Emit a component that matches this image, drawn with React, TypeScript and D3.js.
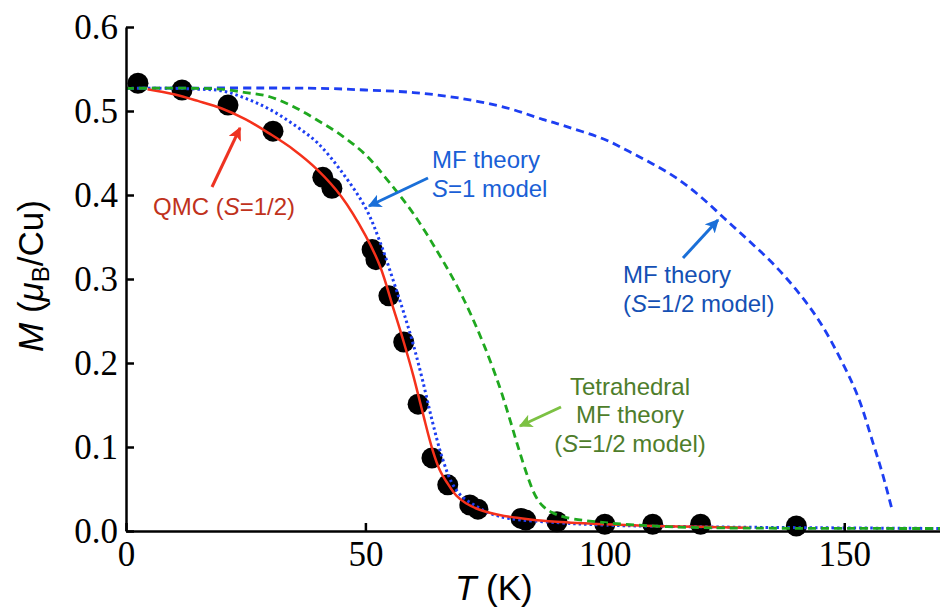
import React, { useRef, useEffect } from "react";
import * as d3 from "d3";

// measured points (black dots)
const dotT = [2.5, 11.7, 21.3, 30.7, 41.1, 43, 51.4, 52.2, 54.9, 58, 61, 63.9, 67.2, 71.8, 73.5, 82.5, 83.5, 90, 100, 110, 120, 140];
const dotM = [0.533, 0.525, 0.507, 0.476, 0.421, 0.408, 0.335, 0.323, 0.28, 0.225, 0.151, 0.087, 0.055, 0.031, 0.026, 0.015, 0.013, 0.011, 0.008, 0.008, 0.008, 0.006];

// QMC (S=1/2), red solid
const qmcT = [4.5, 10, 15, 20, 25, 30, 35, 40, 45, 50, 53, 56, 58, 60, 62, 64, 65.5, 67, 69, 71, 74, 78, 84, 90, 100, 110, 120, 130];
const qmcM = [0.526, 0.52, 0.512, 0.503, 0.49, 0.473, 0.454, 0.43, 0.398, 0.352, 0.316, 0.262, 0.225, 0.185, 0.14, 0.097, 0.073, 0.058, 0.042, 0.033, 0.025, 0.019, 0.014, 0.011, 0.008, 0.006, 0.005, 0.004];

// MF theory S=1 model, blue dotted
const s1T = [0, 10, 15, 20, 25, 30, 35, 40, 45, 50, 53, 56, 58, 60, 62, 64, 66, 68, 70, 73, 76, 80, 90, 100, 120, 140, 170];
const s1M = [0.527, 0.527, 0.526, 0.524, 0.515, 0.502, 0.484, 0.462, 0.428, 0.385, 0.345, 0.295, 0.26, 0.222, 0.178, 0.13, 0.088, 0.058, 0.042, 0.03, 0.021, 0.015, 0.01, 0.007, 0.005, 0.004, 0.003];

// Tetrahedral MF theory, green dashed
const tetT = [0, 15, 20, 25, 30, 35, 40, 45, 50, 55, 60, 65, 69, 72, 75, 78, 80, 82, 84, 85.5, 87, 89, 92, 100, 110, 120, 170];
const tetM = [0.527, 0.527, 0.526, 0.522, 0.517, 0.505, 0.489, 0.471, 0.448, 0.415, 0.378, 0.333, 0.293, 0.258, 0.218, 0.172, 0.136, 0.098, 0.063, 0.042, 0.03, 0.022, 0.016, 0.01, 0.006, 0.004, 0.003];

// MF theory S=1/2 model, blue dashed
const halfT = [0, 40, 50, 60, 70, 80, 87, 90, 100, 105, 110, 115, 120, 125, 130, 135, 140, 145, 150, 153, 156, 158, 160];
const halfM = [0.527, 0.527, 0.525, 0.522, 0.515, 0.503, 0.49, 0.485, 0.466, 0.452, 0.437, 0.42, 0.398, 0.372, 0.346, 0.319, 0.287, 0.248, 0.196, 0.158, 0.105, 0.068, 0.025];

const xMajor = [0, 50, 100, 150];
const yMajor = [0, 0.1, 0.2, 0.3, 0.4, 0.5, 0.6];

const App = () => {
  const svgRef = useRef<SVGSVGElement>(null);

  useEffect(() => {
    const svg = d3.select(svgRef.current);
    svg.selectAll("*").remove();

    const x = d3.scaleLinear().domain([0, 170]).range([126, 940]);
    const y = d3.scaleLinear().domain([0, 0.6]).range([531, 27]);

    // arrow heads
    const defs = svg.append("defs");
    const mk = (id: string, color: string) => {
      defs.append("marker")
        .attr("id", id)
        .attr("viewBox", "0 0 10 10")
        .attr("refX", 9)
        .attr("refY", 5)
        .attr("markerWidth", 4.5)
        .attr("markerHeight", 4.5)
        .attr("orient", "auto")
        .append("path")
        .attr("d", "M0,0 L10,5 L0,10 L2.5,5 Z")
        .attr("fill", color);
    };
    mk("ar-red", "#ee3322");
    mk("ar-blue", "#1a6fd8");
    mk("ar-green", "#7cc143");

    // dots
    svg.append("g")
      .selectAll("circle")
      .data(dotT)
      .join("circle")
      .attr("cx", (d) => x(d))
      .attr("cy", (d, i) => y(dotM[i]))
      .attr("r", 10.5)
      .attr("fill", "#000");

    const series = [
      { t: halfT, m: halfM, color: "#1d3ef2", dash: "8,5", w: 2.8 },
      { t: s1T, m: s1M, color: "#1d3ef2", dash: "2.5,3", w: 3 },
      { t: qmcT, m: qmcM, color: "#f5311b", dash: null, w: 2.5 },
      { t: tetT, m: tetM, color: "#1fa81f", dash: "8,5", w: 2.8 },
    ];
    const line = d3.line().curve(d3.curveCatmullRom.alpha(0.5));
    series.forEach((s) => {
      const pts: [number, number][] = s.t.map((t, i) => [x(t), y(s.m[i])]);
      svg.append("path")
        .attr("d", line(pts))
        .attr("fill", "none")
        .attr("stroke", s.color)
        .attr("stroke-width", s.w)
        .attr("stroke-dasharray", s.dash);
    });

    // axes
    const gx = svg.append("g").attr("transform", "translate(0,531)");
    gx.call(d3.axisBottom(x).ticks(17).tickSize(-5).tickFormat(() => ""));
    gx.call(d3.axisBottom(x).tickValues(xMajor).tickSize(-8).tickSizeOuter(0).tickPadding(10).tickFormat(d3.format("d")));

    const gy = svg.append("g").attr("transform", "translate(126,0)");
    gy.call(d3.axisLeft(y).ticks(30).tickSize(-5).tickFormat(() => ""));
    gy.call(d3.axisLeft(y).tickValues(yMajor).tickSize(-8).tickSizeOuter(0).tickPadding(8).tickFormat(d3.format(".1f")));

    [gx, gy].forEach((g) => {
      g.selectAll("path.domain").attr("stroke", "#000").attr("stroke-width", 2.5);
      g.selectAll("line").attr("stroke", "#000").attr("stroke-width", 2.5);
      g.selectAll("text")
        .attr("font-family", "'Liberation Serif', 'Times New Roman', serif")
        .attr("font-size", 35)
        .attr("fill", "#000");
    });

    // axis titles
    const sans = "'Liberation Sans', Arial, Helvetica, sans-serif";
    const xt = svg.append("text")
      .attr("x", 455)
      .attr("y", 600)
      .attr("font-family", sans)
      .attr("font-size", 35);
    xt.append("tspan").attr("font-style", "italic").text("T");
    xt.append("tspan").text(" (K)");

    const yt = svg.append("text")
      .attr("transform", "translate(43,352) rotate(-90)")
      .attr("font-family", sans)
      .attr("font-size", 35);
    yt.append("tspan").attr("font-style", "italic").text("M");
    yt.append("tspan").text(" (");
    yt.append("tspan").attr("font-style", "italic").text("μ");
    yt.append("tspan").attr("font-size", 24).attr("dy", 6).text("B");
    yt.append("tspan").attr("dy", -6).text("/Cu)");

    // annotations
    const note = (lines: (string | [string, boolean])[][], xs: number, ys: number[], color: string, anchor = "start") => {
      lines.forEach((parts, li) => {
        const t = svg.append("text")
          .attr("x", xs)
          .attr("y", ys[li])
          .attr("font-family", sans)
          .attr("font-size", 24)
          .attr("text-anchor", anchor)
          .attr("fill", color);
        parts.forEach((p) => {
          if (typeof p === "string") t.append("tspan").text(p);
          else t.append("tspan").attr("font-style", p[1] ? "italic" : "normal").text(p[0]);
        });
      });
    };
    note([["QMC (", ["S", true], "=1/2)"]], 153, [215], "#c0321c");
    note([["MF theory"], [["S", true], "=1 model"]], 432, [168, 197], "#1a5fd6");
    note([["MF theory"], ["(", ["S", true], "=1/2 model)"]], 623, [283, 312], "#1450b4");
    note([["Tetrahedral"], ["MF theory"], ["(", ["S", true], "=1/2 model)"]], 630, [395, 423, 452], "#4e7d2b", "middle");

    const arrow = (x1: number, y1: number, x2: number, y2: number, color: string, id: string) => {
      svg.append("line")
        .attr("x1", x1).attr("y1", y1)
        .attr("x2", x2).attr("y2", y2)
        .attr("stroke", color)
        .attr("stroke-width", 3)
        .attr("marker-end", `url(#${id})`);
    };
    arrow(212, 187, 240, 128, "#ee3322", "ar-red");
    arrow(428, 178, 369, 206, "#1a6fd8", "ar-blue");
    arrow(683, 258, 718, 220, "#1a6fd8", "ar-blue");
    arrow(561, 407, 520, 426, "#7cc143", "ar-green");
  }, []);

  return (
    <svg
      ref={svgRef}
      width={940}
      height={610}
      style={{ position: "absolute", left: 0, top: 0, background: "#fff" }}
    />
  );
};

export default App;
